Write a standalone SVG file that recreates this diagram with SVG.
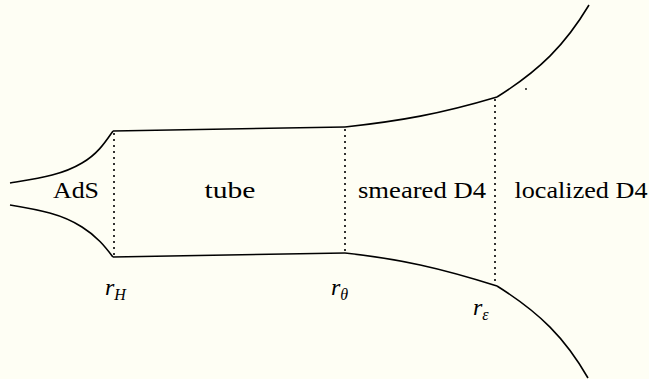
<svg xmlns="http://www.w3.org/2000/svg" width="649" height="379" viewBox="0 0 649 379" font-family="Times New Roman">
<rect width="649" height="379" fill="#fefef4"/>
<g id="connectors" fill="none" stroke="#000" stroke-width="1.6" stroke-linejoin="round">
<path d="M10,183 C40,178 62,175 82,163 C98,154 106,141 113,131"/>
<path d="M10,205 C40,210 62,214 82,227 C98,237 106,248 113,257"/>
<path d="M113,131 L345,127"/>
<path d="M113,257 L345,253"/>
<path d="M345,127 C400,121 440,114 497,97"/>
<path d="M345,253 C400,259 440,268 497,286"/>
<path d="M497,97 C540,70 565,45 589,5"/>
<path d="M497,286 C540,313 565,338 588,378"/>
<g stroke-dasharray="2 4">
<path d="M114,133 V256"/>
<path d="M345,129 V252"/>
<path d="M495,99 V285"/>
</g>
<circle cx="526" cy="89" r="0.9" fill="#000" stroke="none"/>
</g>
<g id="ads"><text font-family="Times New Roman" font-size="23" text-anchor="middle" x="76" y="198" textLength="46" lengthAdjust="spacingAndGlyphs">AdS</text></g>
<g id="tube"><text font-family="Times New Roman" font-size="23" text-anchor="middle" x="230" y="198" textLength="51" lengthAdjust="spacingAndGlyphs">tube</text></g>
<g id="smeared"><text font-family="Times New Roman" font-size="23" text-anchor="middle" x="422" y="198" textLength="128" lengthAdjust="spacingAndGlyphs">smeared D4</text></g>
<g id="localized"><text font-family="Times New Roman" font-size="23" text-anchor="middle" x="581" y="198" textLength="133" lengthAdjust="spacingAndGlyphs">localized D4</text></g>
<g id="rH"><text font-family="Times New Roman" font-size="24" font-style="italic" x="105" y="295">r<tspan font-size="16" dy="5">H</tspan></text></g>
<g id="rtheta"><text font-family="Times New Roman" font-size="24" font-style="italic" x="331" y="295">r<tspan font-size="16" dy="5">θ</tspan></text></g>
<g id="reps"><text font-family="Times New Roman" font-size="24" font-style="italic" x="473" y="315">r<tspan font-size="16" dy="5">ε</tspan></text></g>
</svg>
